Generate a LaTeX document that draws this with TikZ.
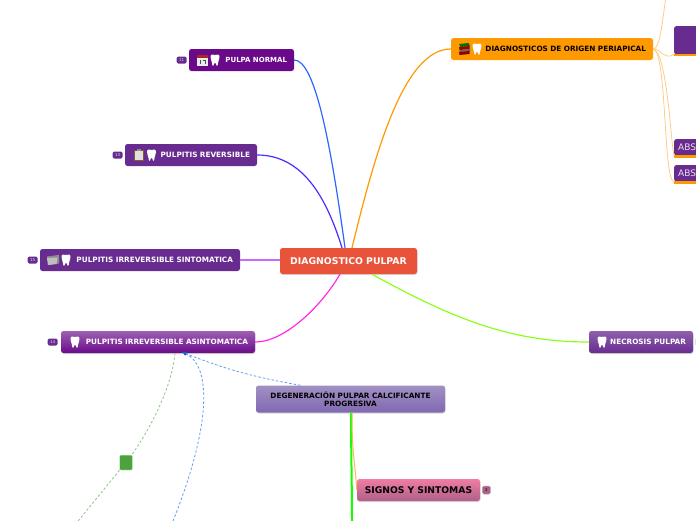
\documentclass[tikz,border=0pt]{standalone}
\usepackage{fontspec}
\setmainfont{DejaVu Sans}
\usetikzlibrary{arrows.meta,calc,positioning,shadows}

\definecolor{rootred}{HTML}{E8533A}
\definecolor{plum}{HTML}{6A0A8A}
\definecolor{grape}{HTML}{682C90}
\definecolor{amber}{HTML}{FF9900}
\definecolor{paleamber}{HTML}{FFCB85}
\definecolor{lavtop}{HTML}{A290C4}
\definecolor{lavbottom}{HTML}{8068B0}
\definecolor{pinktop}{HTML}{F07CA4}
\definecolor{pinkbottom}{HTML}{B06088}
\definecolor{markergreen}{HTML}{4DA23D}
\definecolor{lineblue}{HTML}{2A66FF}
\definecolor{lineindigo}{HTML}{4A2CFF}
\definecolor{lineviolet}{HTML}{CC66FF}
\definecolor{linemagenta}{HTML}{FF2BE8}
\definecolor{linegreen}{HTML}{8CFF1A}
\definecolor{dashblue}{HTML}{5AA0EE}
\definecolor{dashgreen}{HTML}{8FC587}
\definecolor{tipblue}{HTML}{1060D0}

\tikzset{
  box/.style={rounded corners=2.5pt, inner xsep=7pt, inner ysep=0pt, minimum height=22pt,
    font=\bfseries\fontsize{7.3}{8.5}\selectfont, text=white, align=right},
  softshadow/.style={drop shadow={shadow xshift=0.5pt, shadow yshift=-1pt, opacity=0.3}},
  badge/.style={rounded corners=1.5pt, fill=grape, text=white!80!grape, inner sep=0pt,
    minimum width=10pt, minimum height=7pt, font=\fontsize{4}{4}\selectfont},
  stub/.style={fill=grape, rounded corners=2pt, text=white!85!grape, inner sep=0pt,
    minimum width=40pt, text width=40pt, align=left, font=\fontsize{9}{10}\selectfont},
  link/.style={line width=1.2pt, line cap=round},
  sidelink/.style={line width=0.8pt, paleamber},
  dashlink/.style={line width=0.8pt, dash pattern=on 2.5pt off 2pt},
  tiplink/.style={-{Latex[length=4.5pt,width=4pt,color=tipblue]}},
  toothicon/.pic={
    \fill[white] (-4.5,-3) .. controls (-4.5,-6) and (-2,-6) .. (0,-5)
      .. controls (2,-6) and (4.5,-6) .. (4.5,-3)
      .. controls (4.5,-1) and (3.5,0) .. (3,3)
      .. controls (2.8,6.5) and (1.5,6.5) .. (1,4)
      .. controls (0.8,2) and (-0.8,2) .. (-1,4)
      .. controls (-1.5,6.5) and (-2.8,6.5) .. (-3,3)
      .. controls (-3.5,0) and (-4.5,-1) .. cycle;
  },
  calendaricon/.pic={
    \fill[white!92!black] (-5.5,-5.5) rectangle (5.5,5.5);
    \fill[red!60!black!85!white] (-5.5,-5.5) rectangle (5.5,-2.5);
    \fill[black!70] (-3,-0.5) rectangle (-2,4);
    \fill[black!70] (0.5,-0.5) rectangle (3.5,0.5);
    \fill[black!70] (2.2,0.5) rectangle (3.2,4);
  },
  clipboardicon/.pic={
    \fill[brown!70!black] (-5,-5.5) rectangle (5,5.5);
    \fill[white!88!black] (-3.8,-4) rectangle (3.8,4.5);
    \fill[black!45] (-2,-6) rectangle (2,-4);
  },
  foldericon/.pic={
    \fill[black!45] (-6,-3.5) -- (5,-5) -- (6,-5) -- (6,3.5) -- (-4.5,5) -- cycle;
    \fill[black!25] (-6,-2) -- (4.5,-2.5) -- (3.5,4) -- (-5,5) -- cycle;
  },
  booksicon/.pic={
    \fill[green!45!black] (-5.5,-5) -- (4,-6) -- (5.5,-3) -- (-4,-2) -- cycle;
    \fill[red!60!black] (-5.5,-2) -- (5,-3) -- (5,0) -- (-5,1) -- cycle;
    \fill[black!60] (-5,1) -- (5.5,0) -- (5.5,2) -- (-5,3) -- cycle;
    \fill[red!55!black] (-5.5,3) -- (5,2) -- (5,5) -- (-5,6) -- cycle;
  },
}

\begin{document}
\begin{tikzpicture}[x=1pt, y=-1pt, >=Latex]

  \clip[use as bounding box] (0,0) rectangle (696,520);

  % Central topic
  \node[box, softshadow, fill=rootred, minimum height=26pt, align=center, text width=123pt,
    font=\bfseries\fontsize{9.3}{10}\selectfont] (root) at (348.5,261) {DIAGNOSTICO PULPAR};

  % Left branches
  \node[box, fill=plum, text width=91pt, font=\bfseries\fontsize{7}{8}\selectfont] (normal) at (241.5,60) {PULPA NORMAL};
  \node[box, fill=grape, text width=118pt] (reversible) at (191,155) {PULPITIS REVERSIBLE};
  \node[box, fill=grape, text width=186pt] (sintomatica) at (140,260) {PULPITIS IRREVERSIBLE SINTOMATICA};
  \node[box, softshadow, top color=plum!65!white, bottom color=plum, text width=180pt]
    (asintomatica) at (158,342) {PULPITIS IRREVERSIBLE ASINTOMATICA};

  % Right branches
  \node[box, fill=amber, text=black, text width=188pt] (periapical) at (552,49) {DIAGNOSTICOS DE ORIGEN PERIAPICAL};
  \node[box, softshadow, top color=grape!75!white, bottom color=grape, text width=90pt]
    (necrosis) at (641,342) {NECROSIS PULPAR};

  % Lower branches
  \node[box, softshadow, top color=lavtop, bottom color=lavbottom, text=black,
    minimum height=27pt, text width=175pt, align=center] (degeneracion) at (350.5,399)
    {DEGENERACIÓN PULPAR CALCIFICANTE\\PROGRESIVA};
  \node[box, softshadow, top color=pinktop, bottom color=pinkbottom, text=black,
    text width=109pt, align=center, font=\bfseries\fontsize{9.2}{10}\selectfont] (signos) at (418.5,490) {SIGNOS Y SINTOMAS};

  % Badges
  \node[badge, left=2pt of normal] (normalbadge) {11};
  \node[badge, left=2pt of reversible] (reversiblebadge) {13};
  \node[badge, left=2pt of sintomatica] (sintomaticabadge) {15};
  \node[badge, left=3pt of asintomatica] (asintomaticabadge) {14};
  \node[badge, right=2pt of signos, minimum width=8pt, minimum height=8pt, fill=pinkbottom,
    text=black, draw=black!35, line width=0.5pt] (signosbadge) {2};
  \node[badge, right=1.5pt of necrosis, fill=black!12, minimum height=8pt] (necrosisbadge) {};

  % Marker square on the dashed link
  \node[fill=markergreen, draw=green!20!white, line width=0.5pt, rounded corners=1pt,
    minimum width=13pt, minimum height=15pt, inner sep=0pt] (marker) at (126,462.5) {};

  % Stubs cut by the right edge
  \node[fill=grape, rounded corners=2pt, minimum width=40pt, minimum height=28pt, anchor=north west] (topstub) at (674,26) {};
  \node[stub, minimum height=16pt, anchor=north west] (absa) at (674,139) {\hspace{4pt}ABS};
  \node[stub, minimum height=16pt, anchor=north west] (absb) at (674,165) {\hspace{4pt}ABS};
  \fill[amber] (674,54) rectangle (696,56);
  \fill[amber] (674,155) rectangle (696,158);
  \fill[amber] (674,181) rectangle (696,184);

  % Free ends off the page
  \coordinate (topend) at (666,-3);
  \coordinate (greenend) at (78,521);
  \coordinate (blueend) at (173,521);
  \coordinate (stemend) at (352,521);
  \coordinate (target) at (182,352);

  % Links from the central topic
  \draw[link, lineblue] (normal.east) .. controls +(20,0) and +(-15,-110) .. ([xshift=-3.5pt]root.north);
  \draw[link, lineindigo] (reversible.east) .. controls +(48,0) and +(-14,-45) .. ([xshift=-6.5pt]root.north);
  \draw[link, lineviolet] (sintomatica.east) -- ([yshift=1pt]root.west);
  \draw[link, linemagenta] (asintomatica.east) .. controls +(30,0) and +(-18,31) .. ([xshift=-8.5pt]root.south);
  \draw[link, amber] ([xshift=3.5pt]root.north) .. controls +(22,-90) and +(-48,0) .. (periapical.west);
  \draw[link, linegreen] ([xshift=23.5pt]root.south) .. controls +(85,47) and +(-75,0) .. (necrosis.west);

  % Links around the periapical branch
  \draw[sidelink] (periapical.east) .. controls +(7,0) and +(-4,25) .. (topend);
  \draw[sidelink] (periapical.east) .. controls +(9,0) and +(-11,6) .. (topstub.south west);
  \draw[sidelink] (periapical.east) .. controls +(14,3) and +(-3,-10) .. (absa.south west);
  \draw[sidelink] (periapical.east) .. controls +(14,3) and +(-11,0) .. (absb.south west);

  % Stem below the degeneration box
  \draw[line width=2pt, green!90!lime] ([xshift=0.5pt]degeneracion.south) .. controls +(0,35) and +(0,-35) .. (stemend);
  \draw[sidelink, amber!70!white, line width=1pt] ([xshift=1.5pt]degeneracion.south) .. controls +(0,40) and +(-3,-40) .. (signos.west);

  % Dashed relations
  \draw[dashlink, dashblue, tiplink] ([xshift=-50pt]degeneracion.north) .. controls +(-45,-8) and +(45,18) .. (target);
  \draw[dashlink, dashblue, tiplink] (blueend) .. controls +(38,-95) and +(30,14) .. (target);
  \draw[dashlink, dashgreen] ([xshift=17pt]asintomatica.south) .. controls +(-3,35) and +(22,-30) .. (marker);
  \draw[dashlink, dashgreen] (marker) .. controls +(-15,18) and +(15,-18) .. (greenend);

  % Icons
  \pic at (202.5,60) {calendaricon};
  \pic at (215,60) {toothicon};
  \pic at (139,155) {clipboardicon};
  \pic at (151.5,155) {toothicon};
  \pic at (53,260) {foldericon};
  \pic at (66,260) {toothicon};
  \pic at (75,342) {toothicon};
  \pic at (464.5,49) {booksicon};
  \pic at (477,49) {toothicon};
  \pic at (602,342) {toothicon};

\end{tikzpicture}
\end{document}
